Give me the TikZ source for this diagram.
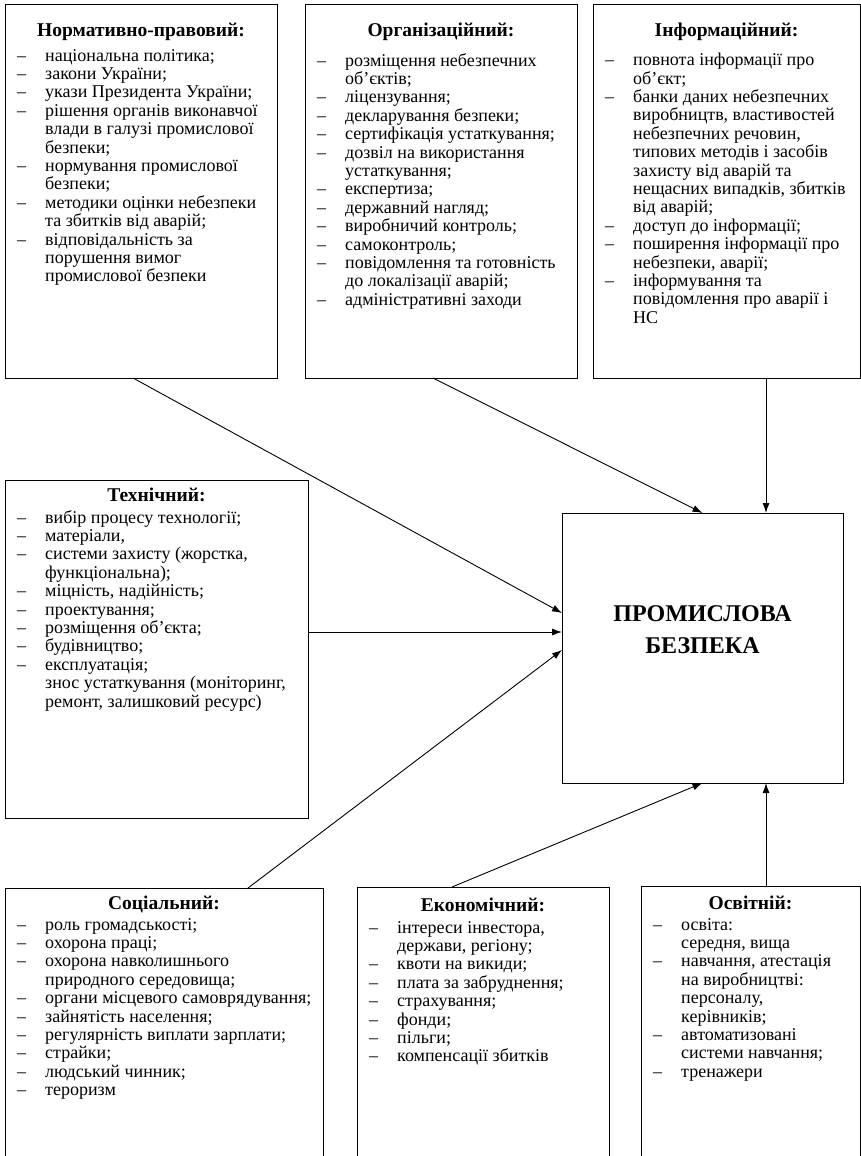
\documentclass[tikz,border=0pt]{standalone}
\usepackage{fontspec}
\setmainfont{Liberation Serif}
\usetikzlibrary{positioning,arrows.meta}
\newcommand{\itemdash}{\makebox[28pt][l]{–}}
\newcommand{\itemgap}{\hspace*{28pt}}
\begin{document}
\begin{tikzpicture}[
            x=1pt, y=-1pt,
            factor/.style={rectangle, draw, line width=0.9pt, inner sep=0pt, outer sep=0pt, anchor=north west},
            heading/.style={font=\fontsize{19.5pt}{21pt}\selectfont\bfseries, inner sep=0pt, anchor=north},
            items/.style={font=\fontsize{18pt}{18.4pt}\selectfont, align=left, inner sep=0pt, anchor=north west},
            arrow/.style={-{Latex[length=10pt,width=7pt]}, line width=0.9pt}
        ]
        \useasboundingbox (0,0) rectangle (861,1156);
        \node[factor, minimum width=272pt, minimum height=374pt] (norm) at (5,4) {};
        \node[factor, minimum width=272pt, minimum height=374pt] (org) at (305,4) {};
        \node[factor, minimum width=267pt, minimum height=374pt] (info) at (593,4) {};
        \node[factor, minimum width=303pt, minimum height=338pt] (tech) at (5,480) {};
        \node[factor, minimum width=318pt, minimum height=285pt] (soc) at (5,888) {};
        \node[factor, minimum width=252pt, minimum height=285pt] (econ) at (357,887) {};
        \node[factor, minimum width=219pt, minimum height=285pt] (osvit) at (641,886) {};
        \node[factor, minimum width=281pt, minimum height=270pt] (main) at (562,513) {};
        \node[heading, below=19pt of norm.north] (normhead) {Нормативно-правовий:};
        \node[heading, below=19pt of org.north] (orghead) {Організаційний:};
        \node[heading, below=19pt of info.north] (infohead) {Інформаційний:};
        \node[heading, below=8pt of tech.north] (techhead) {Технічний:};
        \node[heading, below=8pt of soc.north] (sochead) {Соціальний:};
        \node[heading, below=11pt of econ.north] (econhead) {Економічний:};
        \node[heading, below=10pt of osvit.north] (osvithead) {Освітній:};
        \node[items] (normlist) at ([xshift=12pt,yshift=-45pt]norm.north west) {%
            \itemdash національна політика;\\
            \itemdash закони України;\\
            \itemdash укази Президента України;\\
            \itemdash рішення органів виконавчої\\
            \itemgap влади в галузі промислової\\
            \itemgap безпеки;\\
            \itemdash нормування промислової\\
            \itemgap безпеки;\\
            \itemdash методики оцінки небезпеки\\
            \itemgap та збитків від аварій;\\
            \itemdash відповідальність за\\
            \itemgap порушення вимог\\
            \itemgap промислової безпеки};
        \node[items] (orglist) at ([xshift=12pt,yshift=-49pt]org.north west) {%
            \itemdash розміщення небезпечних\\
            \itemgap об’єктів;\\
            \itemdash ліцензування;\\
            \itemdash декларування безпеки;\\
            \itemdash сертифікація устаткування;\\
            \itemdash дозвіл на використання\\
            \itemgap устаткування;\\
            \itemdash експертиза;\\
            \itemdash державний нагляд;\\
            \itemdash виробничий контроль;\\
            \itemdash самоконтроль;\\
            \itemdash повідомлення та готовність\\
            \itemgap до локалізації аварій;\\
            \itemdash адміністративні заходи};
        \node[items] (infolist) at ([xshift=12pt,yshift=-49pt]info.north west) {%
            \itemdash повнота інформації про\\
            \itemgap об’єкт;\\
            \itemdash банки даних небезпечних\\
            \itemgap виробництв, властивостей\\
            \itemgap небезпечних речовин,\\
            \itemgap типових методів і засобів\\
            \itemgap захисту від аварій та\\
            \itemgap нещасних випадків, збитків\\
            \itemgap від аварій;\\
            \itemdash доступ до інформації;\\
            \itemdash поширення інформації про\\
            \itemgap небезпеки, аварії;\\
            \itemdash інформування та\\
            \itemgap повідомлення про аварії і\\
            \itemgap НС};
        \node[items] (techlist) at ([xshift=12pt,yshift=-30pt]tech.north west) {%
            \itemdash вибір процесу технології;\\
            \itemdash матеріали,\\
            \itemdash системи захисту (жорстка,\\
            \itemgap функціональна);\\
            \itemdash міцність, надійність;\\
            \itemdash проектування;\\
            \itemdash розміщення об’єкта;\\
            \itemdash будівництво;\\
            \itemdash експлуатація;\\
            \itemgap знос устаткування (моніторинг,\\
            \itemgap ремонт, залишковий ресурс)};
        \node[items] (soclist) at ([xshift=12pt,yshift=-30pt]soc.north west) {%
            \itemdash роль громадськості;\\
            \itemdash охорона праці;\\
            \itemdash охорона навколишнього\\
            \itemgap природного середовища;\\
            \itemdash органи місцевого самоврядування;\\
            \itemdash зайнятість населення;\\
            \itemdash регулярність виплати зарплати;\\
            \itemdash страйки;\\
            \itemdash людський чинник;\\
            \itemdash тероризм};
        \node[items] (econlist) at ([xshift=12pt,yshift=-34pt]econ.north west) {%
            \itemdash інтереси інвестора,\\
            \itemgap держави, регіону;\\
            \itemdash квоти на викиди;\\
            \itemdash плата за забруднення;\\
            \itemdash страхування;\\
            \itemdash фонди;\\
            \itemdash пільги;\\
            \itemdash компенсації збитків};
        \node[items] (osvitlist) at ([xshift=12pt,yshift=-32pt]osvit.north west) {%
            \itemdash освіта:\\
            \itemgap середня, вища\\
            \itemdash навчання, атестація\\
            \itemgap на виробництві:\\
            \itemgap персоналу,\\
            \itemgap керівників;\\
            \itemdash автоматизовані\\
            \itemgap системи навчання;\\
            \itemdash тренажери};
        \node[font=\fontsize{24pt}{32pt}\selectfont\bfseries, align=center] (maintitle) at ([yshift=-117pt]main.north) {ПРОМИСЛОВА\\БЕЗПЕКА};
        \coordinate (topin) at ([xshift=204pt]main.north west);
        \coordinate (botin) at ([xshift=204pt]main.south west);
        \coordinate (midin) at ([yshift=-119pt]main.north west);
        \draw[arrow] ([xshift=128pt]norm.south west) -- ([yshift=-100pt]main.north west);
        \draw[arrow] ([xshift=128pt]org.south west) -- (main.north);
        \draw[arrow] (info.south -| topin) -- (topin);
        \draw[arrow] (tech.east |- midin) -- (midin);
        \draw[arrow] ([xshift=243pt]soc.north west) -- ([yshift=-137pt]main.north west);
        \draw[arrow] ([xshift=95pt]econ.north west) -- (main.south);
        \draw[arrow] (osvit.north -| botin) -- (botin);
\end{tikzpicture}
\end{document}
